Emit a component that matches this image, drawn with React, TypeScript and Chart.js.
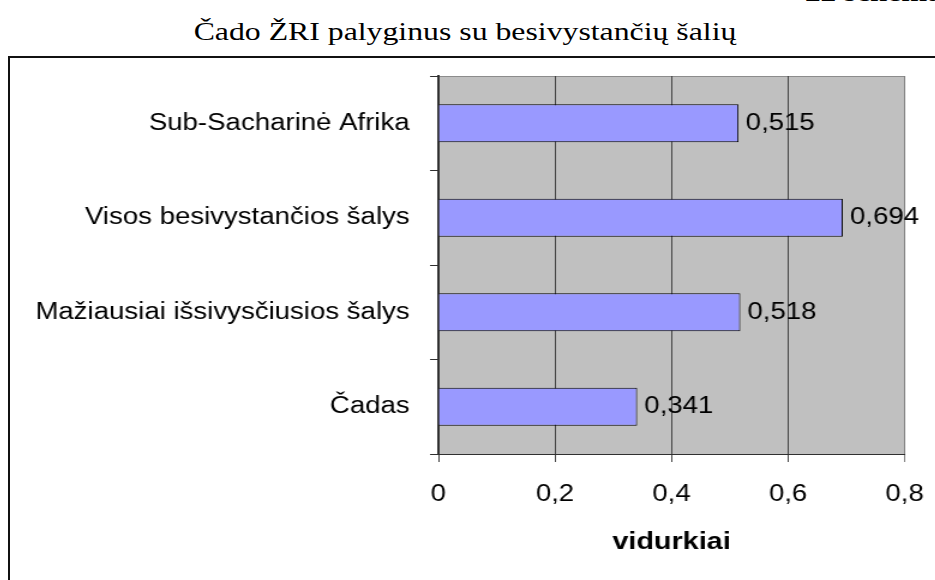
import React, { useEffect, useRef } from 'react';
import { Chart, registerables } from 'chart.js';

Chart.register(...registerables);

const categories = [
  'Sub-Sacharinė Afrika',
  'Visos besivystančios šalys',
  'Mažiausiai išsivysčiusios šalys',
  'Čadas',
];
const values = [0.515, 0.694, 0.518, 0.341];
const xTickValues = [0, 0.2, 0.4, 0.6, 0.8];
const chartTitle = 'Čado ŽRI palyginus su besivystančių šalių';
const cornerNote = '22 schema';
const axisTitle = 'vidurkiai';

const SANS = '"Liberation Sans", Arial, sans-serif';
const SERIF = '"Liberation Serif", "Times New Roman", serif';

const fmt = (v: number) => String(Math.round(v * 1000) / 1000).replace('.', ',');

const plotBg = {
  id: 'plotBg',
  beforeDraw(chart: any) {
    const { ctx, chartArea } = chart;
    const { left, top, right, bottom } = chartArea;
    ctx.save();
    ctx.fillStyle = '#C0C0C0';
    ctx.fillRect(left, top, right - left, bottom - top);
    ctx.strokeStyle = '#8c8c8c';
    ctx.lineWidth = 1;
    ctx.beginPath();
    ctx.moveTo(left, top + 0.5);
    ctx.lineTo(right, top + 0.5);
    ctx.stroke();
    ctx.restore();
  },
};

const dataLabels = {
  id: 'dataLabels',
  afterDatasetsDraw(chart: any) {
    const { ctx } = chart;
    const meta = chart.getDatasetMeta(0);
    ctx.save();
    ctx.font = `23px ${SANS}`;
    ctx.fillStyle = '#000';
    ctx.textAlign = 'left';
    ctx.textBaseline = 'middle';
    meta.data.forEach((el: any, i: number) => {
      ctx.fillText(fmt(values[i]), el.x + 6, el.y);
    });
    ctx.restore();
  },
};

export default function App() {
  const ref = useRef<HTMLCanvasElement>(null);

  useEffect(() => {
    document.body.style.margin = '0';
    const chart = new Chart(ref.current as HTMLCanvasElement, {
      type: 'bar',
      data: {
        labels: categories,
        datasets: [
          {
            data: values,
            backgroundColor: '#9999FF',
            borderColor: '#000000',
            borderWidth: 1,
            categoryPercentage: 1,
            barPercentage: 0.4,
          },
        ],
      },
      options: {
        indexAxis: 'y',
        responsive: false,
        animation: false,
        layout: { padding: { left: 0, top: 18, right: 25.5, bottom: 0 } },
        plugins: {
          legend: { display: false },
          tooltip: { enabled: false },
          title: { display: false },
        },
        scales: {
          x: {
            type: 'linear',
            min: 0,
            max: 0.8,
            afterBuildTicks: (scale: any) => {
              scale.ticks = xTickValues.map((v) => ({ value: v }));
            },
            afterFit: (scale: any) => {
              scale.height = 126;
              scale.paddingLeft = 0;
              scale.paddingRight = 0;
            },
            ticks: {
              color: '#000',
              font: { family: SANS, size: 23 },
              padding: 19,
              maxRotation: 0,
              callback: (v: any) => fmt(Number(v)),
            },
            grid: {
              color: (c: any) => (c.index === xTickValues.length - 1 ? '#808080' : '#404040'),
              lineWidth: 1,
              tickLength: 8,
            },
            border: { display: true, color: '#303030', width: 1 },
            title: {
              display: true,
              text: axisTitle,
              color: '#000',
              font: { family: SANS, size: 24, weight: 'bold' },
              padding: { top: 0, bottom: 23 },
            },
          },
          y: {
            type: 'category',
            offset: true,
            afterFit: (scale: any) => {
              scale.width = 357;
              scale.paddingTop = 0;
              scale.paddingBottom = 0;
            },
            ticks: {
              color: '#000',
              font: { family: SANS, size: 23 },
              padding: 17,
            },
            grid: {
              offset: true,
              drawOnChartArea: false,
              drawTicks: true,
              tickLength: 7,
              color: '#303030',
            },
            border: { display: true, color: '#303030', width: 2 },
          },
        },
      } as any,
      plugins: [plotBg, dataLabels],
    });
    return () => chart.destroy();
  }, []);

  return (
    <div
      style={{
        position: 'fixed',
        left: 0,
        top: 0,
        width: 935,
        height: 580,
        overflow: 'hidden',
        background: '#fff',
      }}
    >
      <div
        style={{
          position: 'absolute',
          left: 805,
          top: -20,
          font: `bold 26px/26px ${SERIF}`,
          color: '#000',
          whiteSpace: 'nowrap',
          transform: 'scaleX(1.2)',
          transformOrigin: '0 0',
        }}
      >
        {cornerNote}
      </div>
      <div
        style={{
          position: 'absolute',
          left: 465,
          top: 19,
          font: `26px/26px ${SERIF}`,
          color: '#000',
          whiteSpace: 'nowrap',
          transform: 'translateX(-50%) scaleX(1.222)',
        }}
      >
        {chartTitle}
      </div>
      <div
        style={{
          position: 'absolute',
          left: 8,
          top: 56,
          width: 1000,
          height: 1000,
          border: '2px solid #111',
          boxSizing: 'border-box',
        }}
      />
      <canvas
        ref={ref}
        width={771}
        height={522}
        style={{
          position: 'absolute',
          left: 10,
          top: 58,
          width: 771,
          height: 522,
          transform: 'scaleX(1.2)',
          transformOrigin: '0 0',
        }}
      />
    </div>
  );
}
